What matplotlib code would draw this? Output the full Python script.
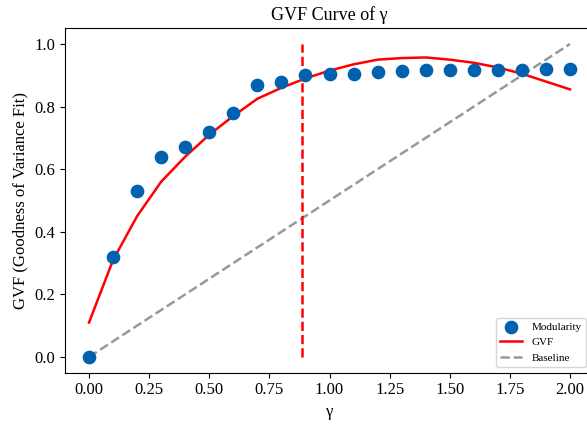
import numpy as np
import matplotlib
matplotlib.use('Agg')
import matplotlib.pyplot as plt

plt.rcParams['font.family'] = ['Liberation Serif', 'DejaVu Serif']

# gamma values and modularity readings
gamma = [0.0, 0.1, 0.2, 0.3, 0.4, 0.5, 0.6, 0.7, 0.8, 0.9, 1.0,
         1.1, 1.2, 1.3, 1.4, 1.5, 1.6, 1.7, 1.8, 1.9, 2.0]
modularity = [0.0, 0.32, 0.53, 0.64, 0.67, 0.72, 0.78, 0.87, 0.88, 0.90, 0.905,
              0.905, 0.91, 0.915, 0.917, 0.918, 0.918, 0.918, 0.918, 0.92, 0.92]
# fitted GVF curve
gvf = [0.11, 0.31, 0.45, 0.56, 0.64, 0.71, 0.77, 0.825, 0.86, 0.89, 0.915,
       0.935, 0.95, 0.955, 0.957, 0.95, 0.94, 0.925, 0.905, 0.88, 0.855]
baseline_x = [0.0, 2.0]
baseline_y = [0.0, 1.0]
best_gamma = 0.885

fig = plt.figure(figsize=(5.87, 4.25), dpi=100)
ax = fig.add_axes([0.1107, 0.1233, 0.9013, 0.81])

ax.scatter(gamma, modularity, s=78, color='#0062AF', label='Modularity', zorder=3)
ax.plot(gamma, gvf, color='red', linewidth=1.8, label='GVF', zorder=2)
ax.plot(baseline_x, baseline_y, '--', color='#999999', linewidth=1.8, label='Baseline')
ax.vlines(best_gamma, 0.0, 1.0, colors='red', linestyles='--', linewidth=1.8)

ax.set_xlim(-0.1, 2.1)
ax.set_ylim(-0.05, 1.05)
ax.set_xticks(np.arange(0, 2.01, 0.25))
ax.set_yticks(np.arange(0, 1.01, 0.2))
ax.tick_params(labelsize=12)

ax.set_title('GVF Curve of γ', fontsize=13)
ax.set_xlabel('γ', fontsize=12)
ax.set_ylabel('GVF (Goodness of Variance Fit)', fontsize=12)
ax.legend(loc='lower right', fontsize=8, bbox_to_anchor=(0.995, 0.0))

fig.savefig('out.png', dpi=100)
